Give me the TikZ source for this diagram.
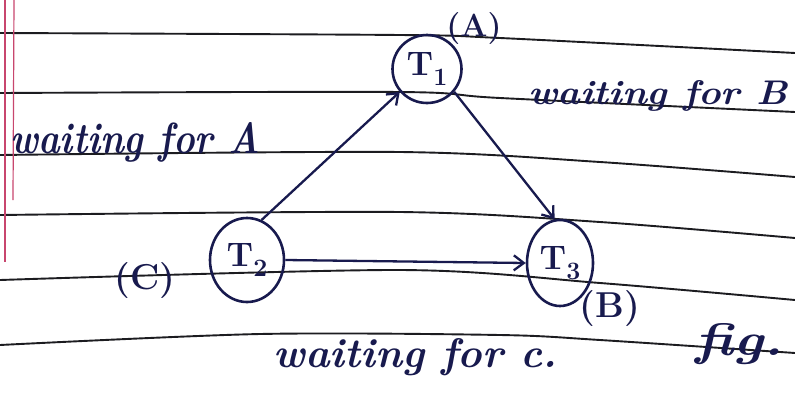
\documentclass[tikz,border=0pt]{standalone}
\usepackage{fontspec}
\usetikzlibrary{arrows.meta,shapes.geometric}

\definecolor{ink}{RGB}{24,26,78}
\definecolor{rulecol}{RGB}{28,28,32}
\definecolor{margincol}{RGB}{200,70,110}

% lowered digit used as a subscript, set in the scalable text font
\newcommand\tsubs[1]{\raisebox{-0.3em}{\fontsize{25}{25}\selectfont #1}}
% a note stretched to a given width and height above the baseline
\newcommand\handnote[3]{\resizebox{#1}{#2}{\bfseries\itshape #3}}

\begin{document}
\begin{tikzpicture}[x=1pt,y=-1pt,
  ruling/.style={draw=rulecol, line width=1.9pt},
  trans/.style={draw=ink, line width=2.6pt, ellipse, inner sep=0pt,
                font=\bfseries\fontsize{34}{40}\selectfont, text=ink},
  hand/.style={text=ink, inner sep=0pt, anchor=base west},
  res/.style={text=ink, inner sep=0pt, font=\bfseries\fontsize{32}{38}\selectfont},
  wait/.style={draw=ink, line width=2.3pt,
               -{Straight Barb[length=10pt,width=15pt,line width=2.3pt]}}
]
\useasboundingbox (0,0) rectangle (795,405);
\fill[white] (0,0) rectangle (795,405);

% ruled notebook paper
\draw[ruling] plot[smooth] coordinates {(0,33) (400,35) (500,38) (795,53)};
\draw[ruling] plot[smooth] coordinates {(0,93) (400,92) (500,98) (795,112)};
\draw[ruling] plot[smooth] coordinates {(0,155) (400,152) (600,162) (795,177)};
\draw[ruling] plot[smooth] coordinates {(0,215) (400,212) (600,222) (795,238)};
\draw[ruling] plot[smooth] coordinates {(0,280) (400,270) (600,283) (795,300)};
\draw[ruling] plot[smooth] coordinates {(0,345) (260,334) (500,335) (600,340) (795,353)};
\draw[margincol, line width=1.2pt] (5,0) -- (5,262);
\draw[margincol, line width=1.2pt] (14,0) -- (13,200);

% transactions
\node[trans, minimum width=69pt, minimum height=68pt] (T1) at (427,69) {T\tsubs{1}};
\node[trans, minimum width=74pt, minimum height=84pt] (T2) at (247,260) {T\tsubs{2}};
\node[trans, minimum width=66pt, minimum height=86pt] (T3) at (560,263) {T\tsubs{3}};

% held resources
\node[res] (A) at (474,29) {(A)};
\node[res, font=\bfseries\fontsize{36}{40}\selectfont] (B) at (610,309) {(B)};
\node[res, font=\bfseries\fontsize{36}{40}\selectfont] (C) at (145,281) {(C)};

% wait-for edges
\draw[wait] (T2.70) -- (T1.220);
\draw[wait] (T1.-40) -- (T3.97);
\draw[wait] (T2.east) -- (T3.west);

% notes
\node[hand] (wA) at (10,153) {\handnote{250pt}{31pt}{waiting for A}};
\node[hand] (wB) at (528,104) {\handnote{259pt}{24pt}{waiting for B}};
\node[hand] (wC) at (273,367) {\handnote{284pt}{29pt}{waiting for c.}};
\node[hand] (fig) at (695,355) {\handnote{88pt}{32pt}{fig.}};
\end{tikzpicture}
\end{document}
